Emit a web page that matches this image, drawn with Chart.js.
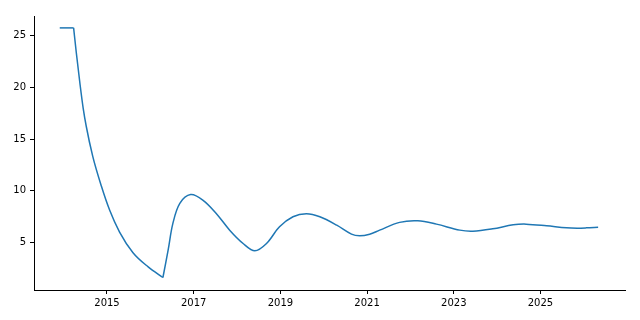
<!DOCTYPE html>
<html>
<head>
<meta charset="utf-8">
<script src="https://cdn.jsdelivr.net/npm/chart.js@4"></script>
<style>
html,body{margin:0;padding:0;background:#fff;}
#wrap{width:640px;height:320px;position:relative;}
</style>
</head>
<body>
<div id="wrap"><canvas id="c" width="640" height="320"></canvas></div>
<script>
const years = [2013.91, 2014.23, 2014.29, 2014.38, 2014.45, 2014.52, 2014.67, 2014.87, 2015.06, 2015.29, 2015.60, 2015.95, 2016.29,
  2016.41, 2016.52, 2016.68, 2016.93, 2017.21, 2017.52, 2017.83, 2018.14, 2018.41, 2018.68, 2018.98, 2019.29, 2019.60,
  2019.91, 2020.30, 2020.64, 2020.83, 2021.06, 2021.29, 2021.75, 2022.17, 2022.60, 2023.14, 2023.44, 2023.90, 2024.37, 2024.67,
  2025.14, 2025.60, 2025.85, 2026.06, 2026.33];
const values = [25.75, 25.75, 23.42, 20.23, 18.00, 16.26, 13.35, 10.45, 8.13, 6.00, 4.01, 2.64, 1.61,
  4.25, 6.84, 8.78, 9.63, 9.10, 7.81, 6.19, 4.90, 4.19, 4.90, 6.51, 7.48, 7.77,
  7.48, 6.67, 5.80, 5.64, 5.80, 6.19, 6.94, 7.09, 6.77, 6.19, 6.09, 6.32, 6.70, 6.77,
  6.61, 6.41, 6.38, 6.41, 6.48];
const xTicks = [2015, 2017, 2019, 2021, 2023, 2025];
const yTicks = [5, 10, 15, 20, 25];
const kinkYears = [2014.23, 2016.29];

const pts = years.map((x, i) => ({x: x, y: values[i]}));
const k1 = years.indexOf(kinkYears[0]);
const k2 = years.indexOf(kinkYears[1]);
const segs = [
  {data: pts.slice(0, k1 + 1), mode: 'default', tension: 0},
  {data: pts.slice(k1, k2 + 1), mode: 'monotone', tension: 0.4},
  {data: pts.slice(k2), mode: 'default', tension: 0.35}
];
const color = '#1f77b4';
const font = {family: 'DejaVu Sans', size: 10};

new Chart(document.getElementById('c'), {
  type: 'line',
  data: {
    datasets: segs.map(s => ({
      data: s.data,
      borderColor: color,
      borderWidth: 1.5,
      pointRadius: 0,
      fill: false,
      tension: s.tension,
      cubicInterpolationMode: s.mode
    }))
  },
  options: {
    responsive: false,
    animation: false,
    parsing: false,
    layout: {padding: {left: 0, right: 15, top: 16, bottom: 0}},
    plugins: {legend: {display: false}, tooltip: {enabled: false}},
    scales: {
      x: {
        type: 'linear',
        min: 2013.316,
        max: 2026.95,
        afterBuildTicks: s => { s.ticks = xTicks.map(v => ({value: v})); },
        afterFit: s => { s.height = 30; },
        ticks: {color: '#000', font: font, padding: 3, maxRotation: 0,
          callback: v => String(v)},
        grid: {display: true, drawOnChartArea: false, drawTicks: true, tickLength: 4, color: '#000', tickWidth: 1},
        border: {display: true, color: '#000', width: 1}
      },
      y: {
        type: 'linear',
        min: 0.4,
        max: 26.9,
        afterBuildTicks: s => { s.ticks = yTicks.map(v => ({value: v})); },
        afterFit: s => { s.width = 34; },
        ticks: {color: '#000', font: font, padding: 4, callback: v => String(v)},
        grid: {display: true, drawOnChartArea: false, drawTicks: true, tickLength: 4, color: '#000', tickWidth: 1},
        border: {display: true, color: '#000', width: 1}
      }
    }
  }
});
</script>
</body>
</html>
